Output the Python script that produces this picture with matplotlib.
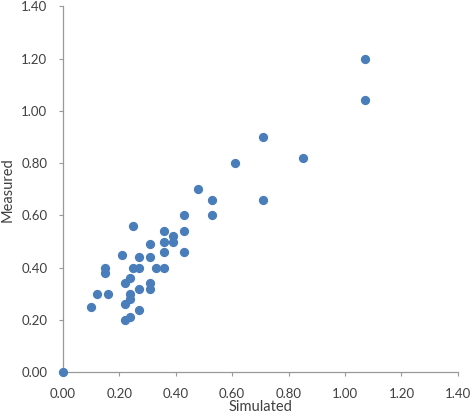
import matplotlib
matplotlib.use("Agg")
from matplotlib import pyplot as plt
from matplotlib.ticker import MultipleLocator, FormatStrFormatter

simulated = [0.0, 0.10, 0.12, 0.16, 0.15, 0.15, 0.21, 0.22, 0.24, 0.22, 0.24,
             0.24, 0.22, 0.24, 0.25, 0.25, 0.27, 0.27, 0.27, 0.27, 0.31, 0.31,
             0.31, 0.31, 0.33, 0.36, 0.36, 0.36, 0.36, 0.39, 0.39, 0.43, 0.43,
             0.43, 0.48, 0.53, 0.53, 0.61, 0.71, 0.71, 0.85, 1.07, 1.07]
measured = [0.0, 0.25, 0.30, 0.30, 0.40, 0.38, 0.45, 0.34, 0.36, 0.26, 0.30,
            0.28, 0.20, 0.21, 0.56, 0.40, 0.40, 0.44, 0.32, 0.24, 0.49, 0.44,
            0.34, 0.32, 0.40, 0.54, 0.50, 0.46, 0.40, 0.52, 0.50, 0.60, 0.54,
            0.46, 0.70, 0.66, 0.60, 0.80, 0.90, 0.66, 0.82, 1.20, 1.04]

plt.rcParams['font.family'] = ['Lato', 'DejaVu Sans']

fig = plt.figure(figsize=(4.75, 4.16), dpi=100)
ax = fig.add_axes([0.132, 0.105, 0.832, 0.880])

ax.scatter(simulated, measured, s=32, color="#4A7EBB", zorder=3, clip_on=False)

ax.set_xlim(0, 1.4)
ax.set_ylim(0, 1.4)
ax.xaxis.set_major_locator(MultipleLocator(0.2))
ax.yaxis.set_major_locator(MultipleLocator(0.2))
ax.xaxis.set_major_formatter(FormatStrFormatter("%.2f"))
ax.yaxis.set_major_formatter(FormatStrFormatter("%.2f"))

for side in ["top", "right"]:
    ax.spines[side].set_visible(False)
for side in ["left", "bottom"]:
    ax.spines[side].set_color("#999999")
    ax.spines[side].set_linewidth(0.9)

ax.tick_params(axis="both", colors="#999999", labelcolor="#404040",
               labelsize=9.5, length=3, width=0.8, direction="out")
ax.tick_params(axis="x", pad=8)
ax.tick_params(axis="y", pad=8)

ax.set_xlabel("Simulated", fontsize=10.5, color="#404040", labelpad=0)
ax.set_ylabel("Measured", fontsize=10.5, color="#404040", labelpad=5)

fig.savefig("out.png", dpi=100)
